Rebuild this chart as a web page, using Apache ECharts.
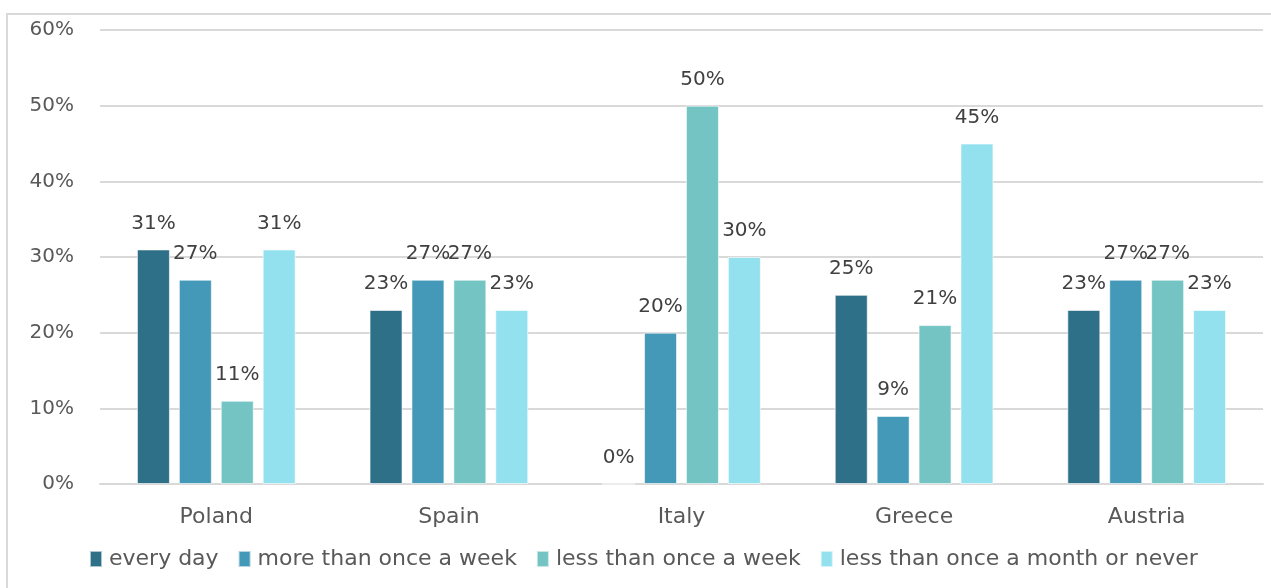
<!DOCTYPE html>
<html>
<head>
<meta charset="utf-8">
<script src="https://cdn.jsdelivr.net/npm/echarts@6/dist/echarts.min.js"></script>
<style>
  html, body { margin: 0; padding: 0; background: #fff; }
  #main { width: 1271px; height: 588px; }
</style>
</head>
<body>
<div id="main"></div>
<script>
// 数据
var countries = ['Poland', 'Spain', 'Italy', 'Greece', 'Austria'];
var everyDay = [31, 23, 0, 25, 23];
var moreThanWeek = [27, 27, 20, 9, 27];
var lessThanWeek = [11, 27, 50, 21, 27];
var lessThanMonth = [31, 23, 30, 45, 23];
var yTicks = [0, 10, 20, 30, 40, 50, 60];

var fontName = 'DejaVu Sans';

function makeSeries(name, data, color) {
    return {
        name: name,
        type: 'bar',
        data: data,
        barWidth: 33,
        barGap: '27%',
        itemStyle: {
            color: color,
            borderColor: 'rgba(255,255,255,0.6)',
            borderWidth: 1
        },
        label: {
            show: true,
            position: 'top',
            distance: 16,
            formatter: '{c}%',
            color: '#404040',
            fontSize: 20,
            fontFamily: fontName
        }
    };
}

function initEcharts() {
    var myChart = echarts.init(document.getElementById('main'));

    var option = {
        animation: false,
        backgroundColor: '#fff',
        graphic: [{
            type: 'rect',
            shape: { x: 7, y: 14, width: 1275, height: 580 },
            style: { fill: 'none', stroke: '#d9d9d9', lineWidth: 2 },
            silent: true
        }],
        grid: {
            left: 100,
            right: 8,
            top: 30,
            bottom: 104
        },
        legend: {
            left: 84,
            top: 543,
            itemWidth: 12,
            itemHeight: 16,
            itemGap: 19,
            icon: 'rect',
            textStyle: {
                fontSize: 22,
                color: '#595959',
                fontFamily: fontName,
                padding: [0, 0, 0, 2]
            },
            data: ['every day', 'more than once a week', 'less than once a week', 'less than once a month or never']
        },
        xAxis: {
            type: 'category',
            data: countries,
            axisLine: { lineStyle: { color: '#d9d9d9', width: 2 } },
            axisTick: { show: false },
            axisLabel: {
                fontSize: 22,
                color: '#595959',
                fontFamily: fontName,
                margin: 22
            }
        },
        yAxis: {
            type: 'value',
            min: yTicks[0],
            max: yTicks[yTicks.length - 1],
            interval: 10,
            axisLine: { show: false },
            axisTick: { show: false },
            splitLine: { lineStyle: { color: '#d9d9d9', width: 2 } },
            axisLabel: {
                formatter: '{value}%',
                fontSize: 20,
                color: '#595959',
                fontFamily: fontName,
                margin: 26
            }
        },
        series: [
            makeSeries('every day', everyDay, '#2e7088'),
            makeSeries('more than once a week', moreThanWeek, '#4499b8'),
            makeSeries('less than once a week', lessThanWeek, '#75c4c4'),
            makeSeries('less than once a month or never', lessThanMonth, '#93e1ee')
        ]
    };

    myChart.setOption(option);
}

initEcharts();
</script>
</body>
</html>
